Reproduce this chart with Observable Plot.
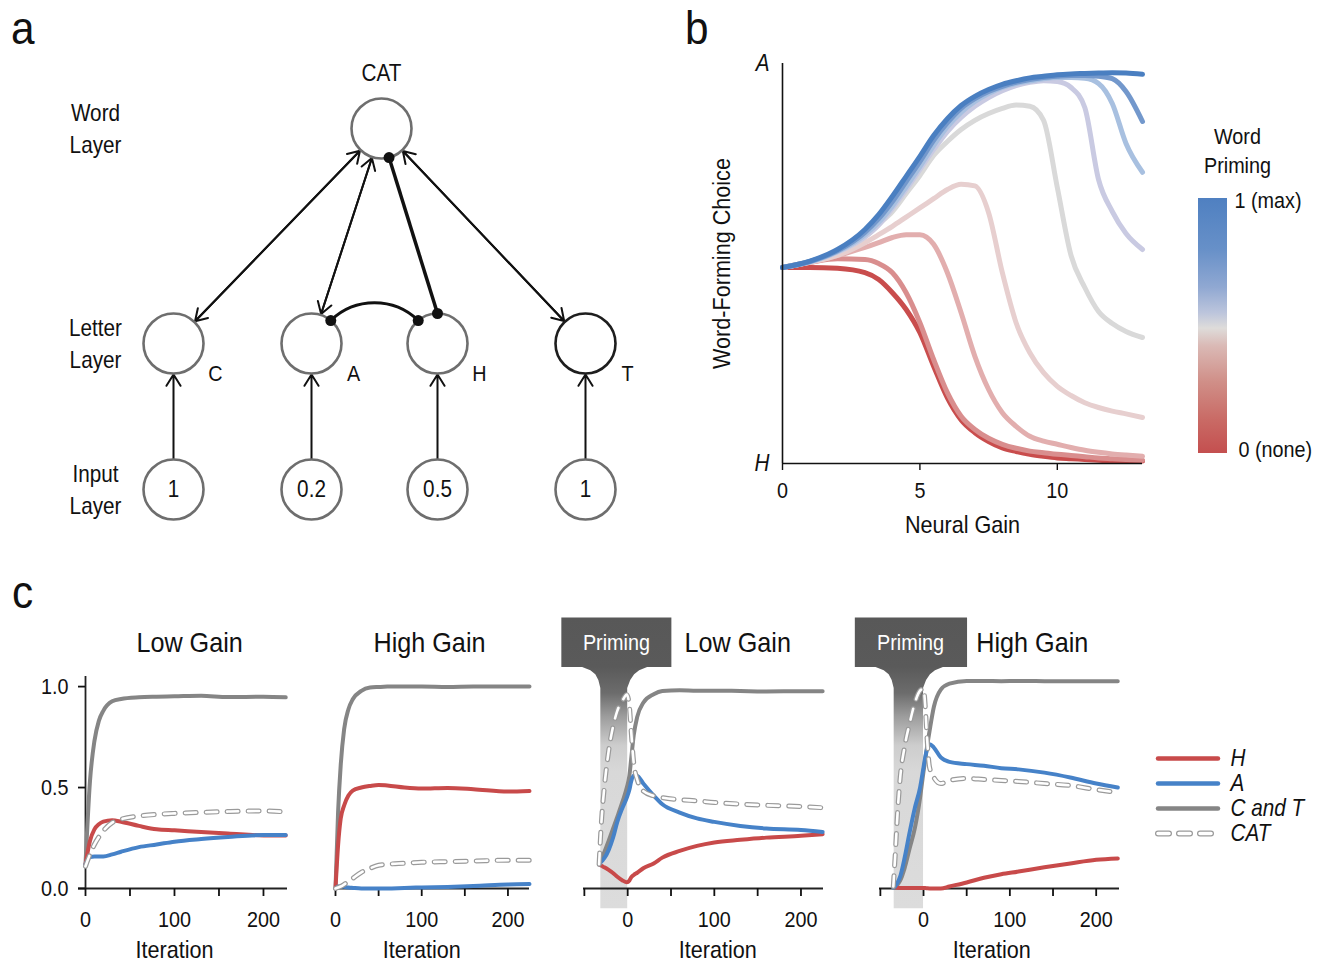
<!DOCTYPE html>
<html><head><meta charset="utf-8">
<script src="https://cdn.jsdelivr.net/npm/d3@7"></script>
<script src="https://cdn.jsdelivr.net/npm/@observablehq/plot@0.6"></script>
<style>
html,body{margin:0;padding:0;background:#fff;}
#root{position:relative;width:1317px;height:962px;overflow:hidden;background:#fff;
 font-family:"Liberation Sans Narrow","Liberation Sans",Arial,sans-serif;color:#111;}
.letter{position:absolute;font-size:47px;line-height:47px;transform:scaleX(0.9);transform-origin:left top;}
svg{overflow:visible}
</style></head><body><div id="root"></div>
<script>
const FONT = '"Liberation Sans Narrow","Liberation Sans",Arial,sans-serif';
const CONDENSE = 0.9;

// ---------- Panel a : network ----------
const layerNames = ["Word\nLayer", "Letter\nLayer", "Input\nLayer"];
const layerY = [128, 343, 489];
const layerLabelX = 95;
const wordName = "CAT";
const wordX = 381;
const letterNames = ["C", "A", "H", "T"];
const letterX = [173, 311, 437, 585];
const inputValues = ["1", "0.2", "0.5", "1"];
const excitatoryLetters = ["C", "A", "T"];
const inhibitoryLetter = "H";
const lateralPair = ["A", "H"];

// ---------- Panel b : word-forming choice vs neural gain ----------
const gain = [0,1,2,3,3.5,4,4.5,5,5.5,6,6.5,7,7.5,8,8.5,9,9.5,10,10.5,11,11.5,12,12.5,13.1];
const primingLevels = [0, 0.125, 0.25, 0.375, 0.5, 0.625, 0.75, 0.875, 1];
const choice_p0000 = [.49,.49,.488,.477,.46,.427,.385,.327,.243,.164,.109,.077,.055,.039,.03,.023,.018,.014,.012,.01,.008,.007,.006,.006];
const choice_p0125 = [.49,.503,.512,.51,.5,.477,.427,.352,.26,.177,.118,.085,.063,.048,.038,.031,.027,.023,.02,.017,.014,.012,.01,.008];
const choice_p0250 = [.49,.503,.52,.54,.552,.565,.572,.572,.548,.477,.377,.268,.185,.127,.093,.068,.056,.048,.04,.033,.028,.024,.021,.018];
const choice_p0375 = [.49,.503,.52,.552,.572,.593,.616,.639,.662,.685,.698,.694,.627,.477,.352,.277,.227,.193,.17,.152,.14,.131,.124,.115];
const choice_p0500 = [.49,.505,.528,.566,.598,.63,.675,.72,.77,.805,.835,.858,.875,.888,.896,.893,.858,.69,.52,.44,.38,.35,.33,.315];
const choice_p0625 = [.49,.504,.528,.566,.596,.638,.685,.735,.785,.83,.865,.893,.915,.932,.945,.953,.957,.955,.94,.89,.71,.63,.575,.535];
const choice_p0750 = [.49,.504,.53,.572,.603,.644,.692,.742,.795,.842,.878,.905,.925,.94,.95,.956,.962,.965,.965,.963,.95,.9,.8,.728];
const choice_p0875 = [.49,.505,.532,.578,.612,.655,.705,.755,.808,.852,.888,.912,.93,.943,.953,.96,.965,.968,.97,.97,.968,.962,.93,.855];
const choice_p1000 = [.49,.506,.535,.585,.622,.668,.718,.768,.82,.862,.895,.918,.935,.948,.957,.964,.968,.972,.974,.975,.976,.977,.976,.973];
const choiceSeries = [choice_p0000, choice_p0125, choice_p0250, choice_p0375, choice_p0500, choice_p0625, choice_p0750, choice_p0875, choice_p1000];
const curveColors = ["#c94d4d","#d98e8e","#e2aeae","#e7cfcf","#d9d9d9","#c9cae2","#a8c0e0","#7398cc","#4a7fc1"];
const gainTicks = [0, 5, 10];
const choiceLabels = ["A", "H"];
const colorbarLabels = ["1 (max)", "0 (none)"];

// ---------- Panel c : activation over iterations ----------
const iterC1 = [0,5,10,15,20,30,40,60,80,100,130,160,200,225];
const ctC1  = [.12,.53,.73,.83,.88,.927,.939,.947,.95,.952,.955,.948,.95,.947];
const hC1   = [.12,.235,.293,.318,.331,.338,.331,.31,.293,.288,.28,.273,.263,.262];
const aC1   = [.12,.156,.159,.159,.159,.169,.182,.205,.218,.232,.245,.255,.265,.265];
const catC1 = [.11,.169,.218,.255,.285,.326,.343,.359,.367,.372,.377,.381,.384,.379];

const iterC2 = [0,3,6,10,15,20,30,40,50,60,80,100,130,160,200,225];
const ctC2  = [0,.378,.608,.789,.888,.937,.979,.995,.998,1,1,1,.998,1,1,1];
const hC2   = [0,.214,.345,.411,.46,.485,.5,.508,.513,.51,.5,.495,.498,.492,.48,.483];
const aC2   = [0,.01,.01,.008,.005,.003,0,0,0,0,.003,.005,.008,.012,.02,.022];
const catC2 = [0,.005,.01,.02,.035,.05,.08,.1,.115,.12,.125,.13,.133,.136,.14,.14];

const iterC3 = [-33,-30,-27,-22,-17,-12,-6,-1,2,4,7,11,18,30,40,60,80,100,130,160,200,225];
const hC3   = [.12,.112,.105,.092,.077,.058,.04,.031,.04,.055,.067,.078,.1,.124,.153,.186,.211,.228,.241,.252,.261,.269];
const aC3   = [.12,.135,.15,.19,.25,.33,.4,.45,.49,.53,.56,.558,.52,.46,.417,.376,.347,.33,.31,.297,.29,.28];
const ctC3  = [.12,.15,.18,.235,.295,.355,.43,.5,.56,.64,.76,.85,.92,.962,.978,.982,.98,.98,.978,.976,.977,.977];
const catC3 = [.12,.35,.5,.68,.8,.88,.93,.96,.9,.78,.62,.54,.483,.459,.45,.44,.434,.426,.418,.412,.406,.4];

const iterC4 = [-35,-33,-30,-27,-22,-16,-10,-4,0,2,4,7,12,20,30,50,70,90,110,140,170,200,225];
const hC4   = [.008,.006,.004,.003,.003,.002,.002,.002,.002,.002,.001,0,0,0,.01,.03,.053,.071,.084,.105,.124,.142,.149];
const aC4   = [.005,.01,.03,.06,.15,.28,.4,.5,.6,.65,.69,.715,.698,.649,.627,.616,.608,.596,.59,.574,.55,.52,.5];
const ctC4  = [.005,.008,.02,.04,.1,.2,.3,.45,.58,.64,.7,.78,.9,.985,1.015,1.028,1.028,1.027,1.028,1.027,1.026,1.027,1.026];
const catC4 = [.01,.15,.38,.55,.7,.82,.92,.98,.99,.9,.75,.6,.55,.52,.535,.545,.54,.535,.53,.52,.51,.49,.475];

const legendNames = ["H", "A", "C and T", "CAT"];
const seriesColors = {"H": "#c84a4a", "A": "#4682c8", "C and T": "#858585", "CAT": "#9a9a9a"};
const activationTicks = [0, 0.5, 1];
const primingWindows = [[-31, 0], [-34, 0]];

// ---------- helpers ----------
const root = document.getElementById("root");
function condense(svg, s) {
  svg.querySelectorAll("text").forEach(t => {
    const x = +t.getAttribute("x") || 0, y = +t.getAttribute("y") || 0;
    let tr = t.getAttribute("transform") || "";
    if (x || y) { tr += ` translate(${x},${y})`; t.removeAttribute("x"); t.removeAttribute("y"); }
    t.setAttribute("transform", `${tr} scale(${s},1)`);
  });
}
function place(el, left, top) {
  condense(el, CONDENSE);
  el.style.position = "absolute"; el.style.left = left + "px"; el.style.top = top + "px";
  root.appendChild(el); return el;
}
function addDefs(svg, html) {
  const defs = document.createElementNS("http://www.w3.org/2000/svg", "defs");
  defs.innerHTML = html; svg.insertBefore(defs, svg.firstChild);
}
function letter(t, left, top) {
  const d = document.createElement("div"); d.className = "letter"; d.textContent = t;
  d.style.left = left + "px"; d.style.top = top + "px"; root.appendChild(d);
}
const baseStyle = {fontFamily: FONT, fontSize: "21px", color: "#111", background: "transparent", overflow: "visible"};

// ---------- Panel a ----------
(function () {
  const R = 30;
  const wordNode = {name: wordName, x: wordX, y: layerY[0]};
  const letterNodes = letterNames.map((n, i) => ({name: n, x: letterX[i], y: layerY[1]}));
  const inputNodes = inputValues.map((v, i) => ({name: v, x: letterX[i], y: layerY[2]}));
  const byName = Object.fromEntries(letterNodes.map(d => [d.name, d]));
  const exc = excitatoryLetters.map(n => byName[n]);
  const down = exc.map(d => ({x1: wordNode.x, y1: wordNode.y, x2: d.x, y2: d.y}));
  const up = exc.map(d => ({x1: d.x, y1: d.y, x2: wordNode.x, y2: wordNode.y}));
  const inp = inputNodes.map((d, i) => ({x1: d.x, y1: d.y, x2: letterNodes[i].x, y2: letterNodes[i].y}));
  const h = byName[inhibitoryLetter];
  const L = Math.hypot(h.x - wordNode.x, h.y - wordNode.y);
  const ux = (h.x - wordNode.x) / L, uy = (h.y - wordNode.y) / L;
  const inhStart = {x: wordNode.x + ux * R, y: wordNode.y + uy * R};
  const inhEnd = {x: h.x, y: h.y - R};
  const pa = byName[lateralPair[0]], ph = byName[lateralPair[1]];
  const ang = 50 * Math.PI / 180;
  const arcStart = {x: pa.x + R * Math.cos(ang), y: pa.y - R * Math.sin(ang)};
  const arcEnd = {x: ph.x - R * Math.cos(ang), y: ph.y - R * Math.sin(ang)};
  const dots = [inhStart, inhEnd, arcStart, arcEnd];
  const arrowOpts = {x1: "x1", y1: "y1", x2: "x2", y2: "y2", insetStart: R + 1, insetEnd: R + 1,
    headLength: 10, headAngle: 64, strokeWidth: 2, stroke: "#111"};
  const svg = Plot.plot({
    width: 660, height: 540, margin: 0,
    x: {domain: [0, 660], range: [0, 660], axis: null},
    y: {domain: [0, 540], range: [0, 540], axis: null},
    style: baseStyle,
    marks: [
      Plot.arrow(down, arrowOpts),
      Plot.arrow(up, arrowOpts),
      Plot.arrow(inp, {...arrowOpts, insetStart: R, insetEnd: R + 1}),
      Plot.link([{a: inhStart, b: inhEnd}], {x1: d => d.a.x, y1: d => d.a.y, x2: d => d.b.x, y2: d => d.b.y, stroke: "#111", strokeWidth: 3.5}),
      Plot.arrow([{a: arcStart, b: arcEnd}], {x1: d => d.a.x, y1: d => d.a.y, x2: d => d.b.x, y2: d => d.b.y, bend: 44, headLength: 0, stroke: "#111", strokeWidth: 3}),
      Plot.dot([wordNode, ...letterNodes.filter(d => d.name !== "T"), ...inputNodes], {x: "x", y: "y", r: R, fill: "white", stroke: "#6e6e6e", strokeWidth: 2.6}),
      Plot.dot(letterNodes.filter(d => d.name === "T"), {x: "x", y: "y", r: R, fill: "white", stroke: "#1e1e1e", strokeWidth: 2.6}),
      Plot.dot(dots, {x: "x", y: "y", r: 5.5, fill: "#111"}),
      Plot.text(inputNodes, {x: "x", y: "y", text: "name", fontSize: 23}),
      Plot.text(letterNodes, {x: "x", y: "y", text: "name", dx: 42, dy: 30, fontSize: 22}),
      Plot.text([wordNode], {x: "x", y: "y", text: "name", dy: -55, fontSize: 23}),
      Plot.text(layerNames, {x: () => layerLabelX, y: (d, i) => layerY[i] - 2, text: d => d, fontSize: 23, lineHeight: 1.4})
    ]
  });
  place(svg, 0, 0);
})();

// ---------- Panel b ----------
(function () {
  const rows = [];
  primingLevels.forEach((p, k) => gain.forEach((g, j) => rows.push({gain: g, choice: choiceSeries[k][j], priming: p})));
  const svg = Plot.plot({
    width: 480, height: 510, marginLeft: 102, marginRight: 18, marginTop: 23, marginBottom: 87,
    x: {domain: [0, 13.1]},
    y: {domain: [0, 1], axis: null},
    color: {type: "ordinal", domain: primingLevels, range: curveColors},
    style: baseStyle,
    marks: [
      Plot.line(rows, {x: "gain", y: "choice", z: "priming", stroke: "priming", strokeWidth: 5, curve: "monotone-x"}),
      Plot.ruleX([0], {stroke: "#111", strokeWidth: 1.6}),
      Plot.ruleY([0], {stroke: "#111", strokeWidth: 1.6}),
      Plot.axisX({ticks: gainTicks, tickSize: 7, tickPadding: 12, strokeWidth: 1.4, fontSize: 22, label: null}),
      Plot.text(choiceLabels, {y: (d, i) => 1 - i, frameAnchor: "left", dx: -13, textAnchor: "end", fontStyle: "italic", fontSize: 23}),
      Plot.text(["Neural Gain"], {frameAnchor: "bottom", lineAnchor: "middle", dy: 62, fontSize: 24}),
      Plot.text(["Word-Forming Choice"], {frameAnchor: "left", textAnchor: "middle", lineAnchor: "middle", rotate: -90, dx: -60, fontSize: 24})
    ]
  });
  place(svg, 680, 40);

  const cb = Plot.plot({
    width: 137, height: 380, marginLeft: 18, marginRight: 90, marginTop: 98, marginBottom: 27,
    x: {domain: [0, 1], axis: null},
    y: {domain: [0, 1], axis: null},
    style: baseStyle,
    marks: [
      Plot.rect([primingLevels], {x1: 0, x2: 1, y1: d => d3.min(d), y2: d => d3.max(d), fill: "url(#cbarGrad)"}),
      Plot.text([colorbarLabels[0]], {x: 1, y: d3.max(primingLevels), dx: 7, dy: 2, textAnchor: "start", fontSize: 22}),
      Plot.text([colorbarLabels[1]], {x: 1, y: d3.min(primingLevels), dx: 11, dy: -4, textAnchor: "start", fontSize: 22}),
      Plot.text(["Word\nPriming"], {frameAnchor: "top", lineAnchor: "middle", dx: 24.5, dy: -49.5, lineHeight: 1.35, fontSize: 22})
    ]
  });
  addDefs(cb, `<linearGradient id="cbarGrad" x1="0" y1="0" x2="0" y2="1">
    <stop offset="0" stop-color="#4f80c1"/><stop offset="0.2" stop-color="#6790c8"/>
    <stop offset="0.35" stop-color="#90a8d2"/><stop offset="0.45" stop-color="#bcc5dc"/>
    <stop offset="0.51" stop-color="#dedcda"/><stop offset="0.58" stop-color="#dab9b5"/>
    <stop offset="0.72" stop-color="#d08f88"/><stop offset="0.87" stop-color="#c96a65"/>
    <stop offset="1" stop-color="#c44f4f"/></linearGradient>`);
  place(cb, 1180, 100);
})();

// ---------- Panel c ----------
const funnelY     = [1.34, 1.094, 1.094, 1.079, 1.059, 1.03, 0.99, -0.1];
const funnelLeft  = [-45, -45, -21, -11.5, -5.8, -2.3, 0, 0];
const funnelRight = [51, 51, 23, 13.8, 8, 3.5, 0, 0];

const cPanels = [
  {title: "Low Gain", iter: iterC1, H: hC1, A: aC1, CT: ctC1, CAT: catC1, left: 0, width: 300,
   domain: [0, 227], marginLeft: 85, marginRight: 13, ticks: [0, 50, 100, 150, 200], yAxis: true, titleX: 117, iterX: 100},
  {title: "High Gain", iter: iterC2, H: hC2, A: aC2, CT: ctC2, CAT: catC2, left: 300, width: 245,
   domain: [0, 225], marginLeft: 35, marginRight: 16, ticks: [0, 50, 100, 150, 200], yAxis: false, titleX: 109, iterX: 100},
  {title: "Low Gain", iter: iterC3, H: hC3, A: aC3, CT: ctC3, CAT: catC3, left: 545, width: 295,
   domain: [-51, 226], marginLeft: 38, marginRight: 17, ticks: [-50, 0, 50, 100, 150, 200], yAxis: false, titleX: 127, iterX: 104,
   band: primingWindows[0], primeX: -13},
  {title: "High Gain", iter: iterC4, H: hC4, A: aC4, CT: ctC4, CAT: catC4, left: 840, width: 300,
   domain: [-51, 227], marginLeft: 39, marginRight: 21, ticks: [-50, 0, 50, 100, 150, 200], yAxis: false, titleX: 126, iterX: 79,
   band: primingWindows[1], primeX: -15}
];

cPanels.forEach((c, i) => {
  const pts = vals => c.iter.map((x, k) => ({x, y: vals[k]}));
  const marks = [];
  if (c.band) {
    const rows = funnelY.map((y, k) => ({y, x1: c.band[0] + funnelLeft[k], x2: c.band[1] + funnelRight[k]}));
    marks.push(Plot.areaX(rows, {y: "y", x1: "x1", x2: "x2", fill: `url(#pg${i})`, curve: "linear"}));
    marks.push(Plot.text(["Priming"], {x: () => c.primeX, frameAnchor: "top", lineAnchor: "middle", dy: -34, fill: "white", fontSize: 22}));
  }
  marks.push(
    Plot.ruleY([0], {stroke: "#222", strokeWidth: 1.8, insetLeft: c.yAxis ? -7 : 0}),
    Plot.axisX({ticks: c.ticks, tickSize: 8, tickPadding: 15, strokeWidth: 1.8, fontSize: 22, label: null,
      tickFormat: d => (d % 100 === 0 ? String(d) : "")})
  );
  if (c.yAxis) {
    marks.push(Plot.ruleX([0], {stroke: "#222", strokeWidth: 1.8}));
    marks.push(Plot.axisY({ticks: activationTicks, tickSize: 7, tickPadding: 10, strokeWidth: 1.8, fontSize: 22, label: null, tickFormat: d3.format(".1f")}));
  }
  marks.push(
    Plot.line(pts(c.CT), {x: "x", y: "y", stroke: seriesColors["C and T"], strokeWidth: 4, curve: "monotone-x"}),
    Plot.line(pts(c.H), {x: "x", y: "y", stroke: seriesColors["H"], strokeWidth: 4, curve: "monotone-x"}),
    Plot.line(pts(c.A), {x: "x", y: "y", stroke: seriesColors["A"], strokeWidth: 4, curve: "monotone-x"}),
    Plot.line(pts(c.CAT), {x: "x", y: "y", stroke: seriesColors["CAT"], strokeWidth: 5, strokeDasharray: "11 10", strokeLinecap: "round", curve: "monotone-x"}),
    Plot.line(pts(c.CAT), {x: "x", y: "y", stroke: "white", strokeWidth: 2.6, strokeDasharray: "11 10", strokeLinecap: "round", curve: "monotone-x"}),
    Plot.text([c.title], {x: () => c.titleX, frameAnchor: "top", lineAnchor: "middle", dy: -33, fontSize: 28}),
    Plot.text(["Iteration"], {x: () => c.iterX, frameAnchor: "bottom", lineAnchor: "middle", dy: 62, fontSize: 24})
  );
  const svg = Plot.plot({
    width: c.width, height: 362, marginLeft: c.marginLeft, marginRight: c.marginRight, marginTop: 76, marginBottom: 74,
    x: {domain: c.domain},
    y: {domain: [0, 1.05], axis: c.yAxis ? undefined : null},
    style: baseStyle,
    marks
  });
  if (c.band) addDefs(svg, `<linearGradient id="pg${i}" x1="0" y1="0" x2="0" y2="1">
    <stop offset="0" stop-color="#585858"/><stop offset="0.17" stop-color="#5a5a5a"/>
    <stop offset="0.26" stop-color="#6c6c6c"/><stop offset="0.34" stop-color="#9c9c9c"/>
    <stop offset="0.44" stop-color="#cdcdcd"/><stop offset="0.53" stop-color="#d8d8d8"/>
    <stop offset="1" stop-color="#dcdcdc"/></linearGradient>`);
  place(svg, c.left, 600);
});

// legend for panel c
(function () {
  const solid = legendNames.filter(n => n !== "CAT");
  const marks = solid.map(n => Plot.ruleY([n], {y: d => d, x1: 0, x2: 1, stroke: seriesColors[n], strokeWidth: 4.5, strokeLinecap: "round"}));
  marks.push(
    Plot.ruleY(["CAT"], {y: d => d, x1: 0, x2: 1, stroke: seriesColors["CAT"], strokeWidth: 6, strokeDasharray: "11 10", strokeLinecap: "round"}),
    Plot.ruleY(["CAT"], {y: d => d, x1: 0, x2: 1, stroke: "white", strokeWidth: 3.6, strokeDasharray: "11 10", strokeLinecap: "round"}),
    Plot.text(legendNames, {y: d => d, x: 1, dx: 12, textAnchor: "start", fontStyle: "italic", fontSize: 23})
  );
  const svg = Plot.plot({
    width: 177, height: 110, margin: 0,
    x: {domain: [0, 1], range: [18, 78], axis: null},
    y: {type: "point", domain: legendNames, range: [18, 93], padding: 0, axis: null},
    style: baseStyle,
    marks
  });
  place(svg, 1140, 740);
})();

letter("a", 11, 4);
letter("b", 685, 4);
letter("c", 12, 568);
</script>
</body></html>
